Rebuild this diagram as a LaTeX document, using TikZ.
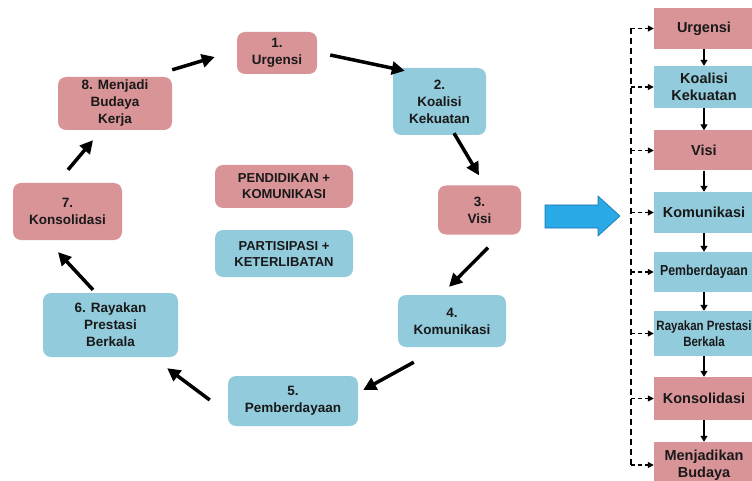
\documentclass[tikz,border=0pt]{standalone}
\usepackage{fontspec}
\setmainfont{Liberation Sans}
\newfontfamily\narrowfont[FakeStretch=0.85]{Liberation Sans}
\usepackage{tikz}
\usetikzlibrary{arrows.meta,calc}

\definecolor{boxpink}{RGB}{217,148,152}
\definecolor{boxblue}{RGB}{146,203,220}
\definecolor{bigblue}{RGB}{41,170,230}
\definecolor{bigblueline}{RGB}{25,115,175}

\begin{document}
\begin{tikzpicture}[x=1pt, y=-1pt,
    stage/.style={rectangle, rounded corners=8pt, inner sep=0pt, align=center, font=\bfseries\fontsize{13.5}{17}\selectfont, text=black!90},
    pinkstage/.style={stage, fill=boxpink},
    bluestage/.style={stage, fill=boxblue},
    rowbox/.style={rectangle, inner sep=0pt, minimum width=100pt, align=center, font=\bfseries\fontsize{14.5}{17}\selectfont, text=black!90},
    cyc/.style={-{Triangle[length=13pt,width=13pt]}, line width=3.5pt},
    nextarr/.style={-{Triangle[length=6pt,width=7pt]}, line width=1.4pt},
    spineline/.style={line width=1.6pt, dash pattern=on 6pt off 4pt},
    branch/.style={-{Triangle[length=6pt,width=6pt]}, line width=1.4pt, dash pattern=on 4pt off 3pt}
]
    \useasboundingbox (0,0) rectangle (752,481);

    % Cycle (left)
    \node[pinkstage, minimum width=80pt, minimum height=42pt] (c1) at (277,53) {1.\\Urgensi};
    \node[bluestage, minimum width=93pt, minimum height=67pt] (c2) at (439.5,101.5) {2.\\Koalisi\\Kekuatan};
    \node[pinkstage, minimum width=83pt, minimum height=49pt] (c3) at (479.5,210) {3.\\Visi};
    \node[bluestage, minimum width=108pt, minimum height=52pt] (c4) at (452,321) {4.\\Komunikasi};
    \node[bluestage, minimum width=130pt, minimum height=50pt] (c5) at (293,401) {5.\\Pemberdayaan};
    \node[bluestage, minimum width=135pt, minimum height=64pt] (c6) at (110.5,325) {6. Rayakan\\Prestasi\\Berkala};
    \node[pinkstage, minimum width=109pt, minimum height=57pt] (c7) at (67.5,211.5) {7.\\Konsolidasi};
    \node[pinkstage, minimum width=114pt, minimum height=53pt] (c8) at (115,103.5) {8. Menjadi\\Budaya\\Kerja};

    % Center boxes
    \node[pinkstage, minimum width=138pt, minimum height=43pt, font=\bfseries\fontsize{13}{16}\selectfont] (pk) at (284,186.5) {PENDIDIKAN +\\KOMUNIKASI};
    \node[bluestage, minimum width=138pt, minimum height=47pt, font=\bfseries\fontsize{13}{16}\selectfont] (pt) at (284,253.5) {PARTISIPASI +\\KETERLIBATAN};

    \draw[cyc] ($(c8.north east)+(0,-7)$) -- ($(c1.west)+(-22,4)$);
    \draw[cyc] ($(c1.east)+(13,2)$) -- ($(c2.north west)+(12,3)$);
    \draw[cyc] ($(c2.south)+(14.5,-2)$) -- ($(c3.north)+(-0.5,-10)$);
    \draw[cyc] ($(c3.south)+(8.5,13)$) -- ($(c4.north)+(-3,-8)$);
    \draw[cyc] ($(c4.south west)+(16,15)$) -- ($(c5.east)+(5,-11)$);
    \draw[cyc] ($(c5.west)+(-18,-1)$) -- ($(c6.south east)+(-11,11)$);
    \draw[cyc] ($(c6.north)+(-17.5,-3)$) -- ($(c7.south)+(-9.5,12)$);
    \draw[cyc] ($(c7.north)+(0.5,-13)$) -- ($(c8.south)+(-22,10)$);

    % Big arrow
    \filldraw[fill=bigblue, draw=bigblueline, line width=0.6pt] (545,205) -- (598,205) -- (598,196) -- (620,216) -- (598,236) -- (598,228) -- (545,228) -- cycle;

    % Column (right)
    \node[rowbox, fill=boxpink, minimum height=41pt] (r1) at (704,28.5) {Urgensi};
    \node[rowbox, fill=boxblue, minimum height=42pt] (r2) at (704,87) {Koalisi\\Kekuatan};
    \node[rowbox, fill=boxpink, minimum height=40pt] (r3) at (704,150.5) {Visi};
    \node[rowbox, fill=boxblue, minimum height=41pt] (r4) at (704,212.5) {Komunikasi};
    \node[rowbox, fill=boxblue, minimum height=40pt, font=\narrowfont\bfseries\fontsize{14.5}{17}\selectfont] (r5) at (704,272) {Pemberdayaan};
    \node[rowbox, fill=boxblue, minimum height=45pt, font=\narrowfont\bfseries\fontsize{13.5}{16}\selectfont] (r6) at (704,333.5) {Rayakan Prestasi\\Berkala};
    \node[rowbox, fill=boxpink, minimum height=43pt] (r7) at (704,398.5) {Konsolidasi};
    \node[rowbox, fill=boxpink, minimum height=46pt] (r8) at (704,465) {Menjadikan\\Budaya};

    \foreach \a/\b in {r1/r2,r2/r3,r3/r4,r4/r5,r5/r6,r6/r7,r7/r8}
        \draw[nextarr] (\a) -- (\b);

    \coordinate (sp) at (631,0);
    \draw[spineline] (sp |- r1.west) -- (sp |- r8.west);
    \foreach \r in {r1,r2,r3,r4,r5,r6,r7,r8}
        \draw[branch] (sp |- \r.west) -- (\r.west);

\end{tikzpicture}
\end{document}
